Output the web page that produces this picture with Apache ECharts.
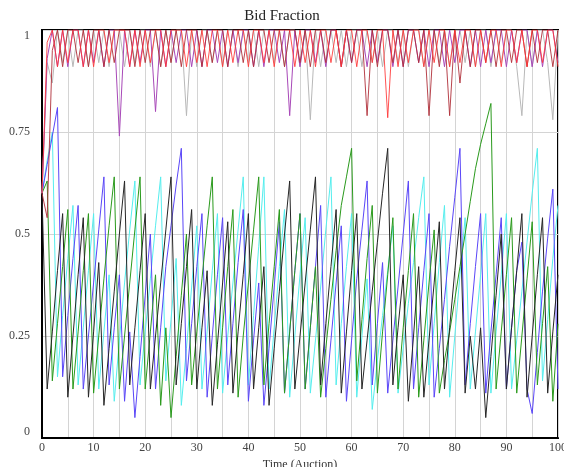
<!DOCTYPE html>
<html>
<head>
<meta charset="utf-8">
<script src="https://cdn.jsdelivr.net/npm/echarts@6/dist/echarts.min.js"></script>
<style>
  html, body { margin: 0; padding: 0; background: #fff; }
  #chart { width: 564px; height: 467px; }
</style>
</head>
<body>
<div id="chart"></div>
<script>
// time axis (auction number)
var timeSteps = [];
for (var i = 0; i <= 100; i++) timeSteps.push(i);

var yTicks = [0, 0.25, 0.5, 0.75, 1];

// low bidders (sawtooth)
var blueBid = [0.60,0.67,0.74,0.81,0.15,0.30,0.44,0.57,0.12,0.25,0.38,0.51,0.64,0.13,0.27,0.40,0.09,0.26,0.05,0.20,
  0.35,0.50,0.12,0.27,0.42,0.52,0.62,0.71,0.14,0.28,0.42,0.55,0.10,0.25,0.40,0.54,0.13,0.28,0.43,0.56,
  0.09,0.24,0.38,0.08,0.22,0.37,0.53,0.11,0.26,0.41,0.55,0.12,0.27,0.42,0.57,0.10,0.24,0.38,0.52,0.09,
  0.24,0.39,0.51,0.63,0.13,0.28,0.43,0.11,0.24,0.37,0.50,0.63,0.12,0.27,0.41,0.55,0.10,0.22,0.34,0.47,
  0.59,0.71,0.13,0.28,0.42,0.55,0.11,0.26,0.40,0.54,0.12,0.27,0.41,0.48,0.12,0.06,0.21,0.36,0.49,0.61,0.12];

var cyanBid = [0.60,0.68,0.75,0.15,0.30,0.44,0.57,0.13,0.27,0.41,0.55,0.12,0.26,0.40,0.09,0.24,0.38,0.51,0.63,0.13,
  0.26,0.39,0.52,0.64,0.14,0.29,0.44,0.08,0.22,0.37,0.52,0.12,0.26,0.41,0.55,0.11,0.25,0.38,0.51,0.64,
  0.13,0.30,0.47,0.64,0.12,0.27,0.42,0.56,0.10,0.25,0.40,0.54,0.11,0.24,0.37,0.51,0.64,0.13,0.28,0.42,
  0.55,0.10,0.25,0.39,0.07,0.19,0.30,0.41,0.52,0.11,0.22,0.33,0.43,0.54,0.64,0.13,0.28,0.43,0.57,0.10,
  0.25,0.40,0.54,0.12,0.26,0.40,0.55,0.11,0.26,0.40,0.55,0.12,0.24,0.36,0.48,0.60,0.71,0.14,0.29,0.44,0.57];

var greenBid = [0.60,0.63,0.14,0.28,0.42,0.56,0.12,0.26,0.41,0.55,0.11,0.25,0.39,0.52,0.64,0.12,0.25,0.38,0.51,0.64,
  0.12,0.26,0.40,0.08,0.27,0.05,0.20,0.35,0.50,0.13,0.26,0.39,0.52,0.64,0.12,0.27,0.42,0.56,0.10,0.25,
  0.38,0.51,0.64,0.13,0.28,0.42,0.56,0.11,0.26,0.41,0.55,0.12,0.27,0.42,0.10,0.22,0.34,0.46,0.57,0.64,
  0.71,0.14,0.29,0.44,0.57,0.11,0.26,0.40,0.54,0.12,0.27,0.41,0.55,0.10,0.24,0.38,0.51,0.11,0.19,0.26,
  0.34,0.42,0.50,0.58,0.66,0.72,0.77,0.82,0.12,0.26,0.40,0.54,0.11,0.25,0.39,0.53,0.13,0.28,0.42,0.09,0.28];

var blackBid = [0.60,0.12,0.26,0.41,0.55,0.10,0.25,0.40,0.54,0.10,0.26,0.43,0.08,0.22,0.36,0.50,0.63,0.13,0.27,0.41,
  0.55,0.12,0.25,0.38,0.51,0.64,0.13,0.28,0.42,0.56,0.12,0.27,0.41,0.08,0.23,0.38,0.53,0.11,0.26,0.40,
  0.55,0.12,0.27,0.42,0.08,0.22,0.36,0.50,0.63,0.12,0.25,0.38,0.51,0.64,0.13,0.28,0.42,0.56,0.11,0.26,
  0.41,0.55,0.12,0.24,0.36,0.48,0.60,0.71,0.13,0.27,0.40,0.09,0.25,0.42,0.10,0.24,0.38,0.53,0.12,0.27,
  0.41,0.54,0.11,0.25,0.12,0.27,0.05,0.20,0.35,0.50,0.12,0.27,0.41,0.55,0.10,0.25,0.40,0.54,0.11,0.26,0.40];

// high bidders (near 1)
var redBid = [0.60,0.97,1,0.91,1,0.92,1,1,0.91,1,0.91,1,1,0.92,1,1,1,0.91,1,0.91,
  1,0.92,1,1,0.91,1,1,1,0.91,1,0.92,1,0.91,1,1,0.91,1,0.92,1,1,
  0.91,1,1,0.92,1,0.91,1,1,1,0.91,1,0.92,1,0.91,1,1,0.92,1,0.91,1,
  1,0.91,1,1,0.92,1,1,0.785,1,0.91,1,0.92,1,1,0.91,1,0.92,1,1,0.91,
  1,0.92,1,1,0.91,1,0.92,1,1,0.91,1,1,0.92,1,0.91,1,1,0.92,1,1,0.91];

var darkRedBid = [0.60,0.54,0.95,1,0.91,1,1,0.92,1,0.91,1,1,0.91,1,0.92,1,1,1,0.91,1,
  0.92,1,1,0.91,1,0.92,1,0.91,1,1,1,0.91,1,0.92,1,1,0.91,1,1,0.92,
  1,0.91,1,1,0.92,1,1,0.91,1,1,0.92,1,0.91,1,1,0.92,1,1,0.91,1,
  0.92,1,1,0.79,1,0.91,1,1,0.92,1,0.91,1,1,0.92,1,0.79,1,0.91,1,0.79,
  1,0.87,1,0.91,1,1,0.92,1,0.91,1,1,0.92,1,1,0.91,1,0.92,1,1,0.91,1];

var purpleBid = [0.60,0.93,1,0.91,1,0.91,1,1,0.91,1,0.92,1,0.91,1,1,0.74,1,0.91,1,0.92,
  1,1,0.80,1,0.91,1,0.92,1,1,0.91,1,0.91,1,1,0.92,1,0.91,1,0.92,1,
  1,0.91,1,0.91,1,1,0.92,1,0.79,1,0.91,1,1,0.92,1,0.91,1,1,0.91,1,
  0.92,1,1,0.91,1,0.92,1,1,0.91,1,0.91,1,1,0.92,1,0.91,1,1,0.91,1,
  0.92,1,1,0.91,1,0.91,1,0.92,1,1,0.91,1,0.92,1,1,0.91,1,0.91,1,1,0.92];

var grayBid = [0.60,0.92,0.87,1,0.92,1,0.91,1,1,0.91,1,0.92,1,0.91,1,1,0.91,1,0.92,1,
  1,0.91,1,0.91,1,0.92,1,1,0.79,1,0.91,1,1,0.92,1,0.91,1,1,0.91,1,
  0.92,1,0.91,1,1,0.92,1,0.91,1,1,0.91,1,0.78,1,0.91,1,1,0.92,1,0.91,
  1,1,0.91,1,0.92,1,0.91,1,1,0.92,1,0.91,1,1,0.91,1,1,0.92,1,0.91,
  1,1,0.92,1,0.91,1,1,0.91,1,0.92,1,1,0.91,0.79,1,0.91,1,1,0.92,0.78,1];

function pairs(arr) {
  return arr.map(function (v, i) { return [timeSteps[i], v]; });
}

function lineSeries(name, arr, color, alpha) {
  return {
    name: name,
    type: 'line',
    symbol: 'none',
    animation: false,
    lineStyle: { width: 1, color: color, opacity: alpha || 1 },
    data: pairs(arr)
  };
}

var serif = '"Liberation Serif", "DejaVu Serif", serif';

var option = {
  backgroundColor: '#fff',
  title: {
    text: 'Bid Fraction',
    left: 'center',
    top: 4,
    textStyle: { fontFamily: serif, fontSize: 15, fontWeight: 'normal', color: '#222' }
  },
  grid: {
    left: 42, right: 6, top: 30, bottom: 29,
    containLabel: false, outerBoundsMode: 'none',
    show: true, borderColor: '#000', borderWidth: 2
  },
  xAxis: {
    type: 'value',
    min: 0,
    max: 100,
    interval: 5,
    name: 'Time (Auction)',
    nameLocation: 'middle',
    nameGap: 16,
    nameTextStyle: { fontFamily: serif, fontSize: 12, color: '#333' },
    axisLine: { show: true, lineStyle: { color: '#000', width: 2 } },
    axisTick: { show: false },
    axisLabel: {
      fontFamily: serif, fontSize: 12, color: '#444', margin: 4,
      formatter: function (v) { return v % 10 === 0 ? String(v) : ''; }
    },
    splitLine: { show: true, lineStyle: { color: '#d4d4d4', width: 1 } }
  },
  yAxis: {
    type: 'value',
    min: yTicks[0],
    max: yTicks[yTicks.length - 1],
    interval: 0.25,
    axisLine: { show: true, lineStyle: { color: '#000', width: 2 } },
    axisTick: { show: false },
    axisLabel: {
      fontFamily: serif, fontSize: 12, color: '#444', margin: 12,
      verticalAlignMaxLabel: 'top', verticalAlignMinLabel: 'bottom'
    },
    splitLine: { show: true, lineStyle: { color: '#d4d4d4', width: 1 } }
  },
  series: [
    lineSeries('Bidder 5', cyanBid, '#55eeee'),
    lineSeries('Bidder 6', blueBid, '#5a46f8'),
    lineSeries('Bidder 7', greenBid, '#2a9a1c'),
    lineSeries('Bidder 8', blackBid, '#262626'),
    lineSeries('Bidder 4', grayBid, '#b8b8b8'),
    lineSeries('Bidder 3', purpleBid, '#a848b8'),
    lineSeries('Bidder 2', darkRedBid, '#b0303a', 0.9),
    lineSeries('Bidder 1', redBid, '#ff3434', 0.85)
  ]
};

var chart = echarts.init(document.getElementById('chart'));
chart.setOption(option);
</script>
</body>
</html>
